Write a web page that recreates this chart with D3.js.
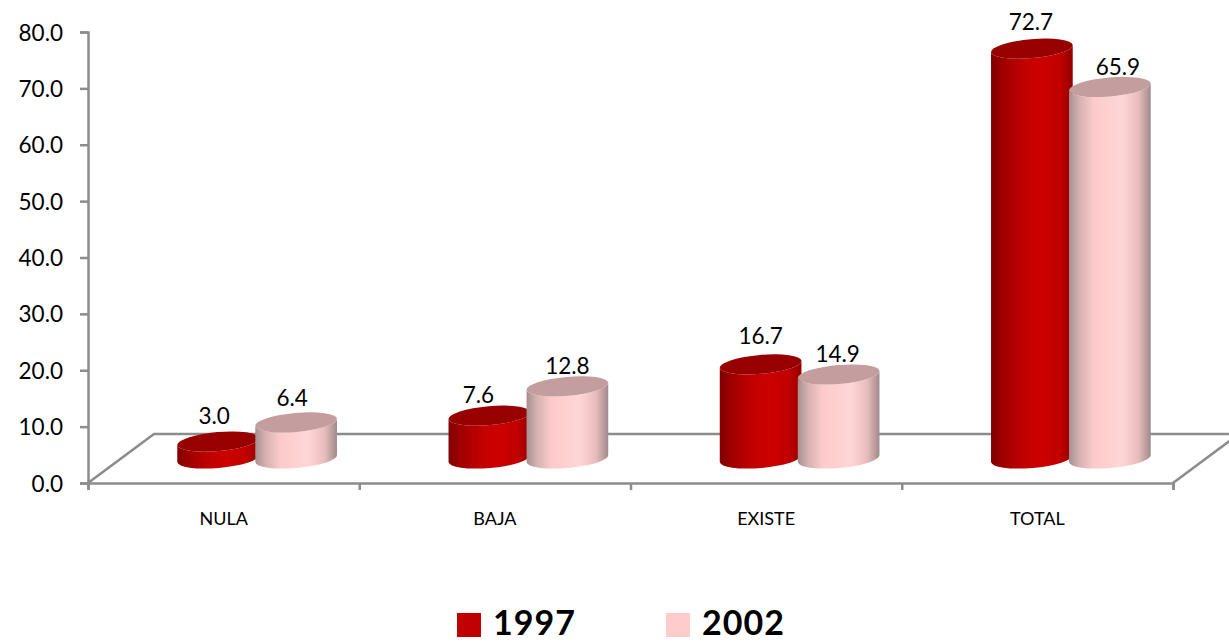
<!DOCTYPE html>
<html>
<head>
<meta charset="utf-8">
<script src="https://cdnjs.cloudflare.com/ajax/libs/d3/7.8.5/d3.min.js"></script>
<style>
  html, body { margin: 0; padding: 0; background: #fff; }
  svg { display: block; }
  text { font-family: Lato, "Open Sans", sans-serif; fill: #000; }
</style>
</head>
<body>
<svg id="chart" width="1229" height="642"></svg>
<script>
const categories = ['NULA', 'BAJA', 'EXISTE', 'TOTAL'];
const seriesNames = ['1997', '2002'];
const values1997 = [3.0, 7.6, 16.7, 72.7];
const values2002 = [6.4, 12.8, 14.9, 65.9];
const yTicks = [0, 10, 20, 30, 40, 50, 60, 70, 80];

const svg = d3.select('#chart');
const axisColor = '#8c8c8c';

// plot frame, the floor is a parallelogram going back by depthX/depthY
const plotLeft = 88, plotRight = 1173, plotBottom = 483, plotTop = 32;
const depthX = 66, depthY = 49;
const baseLift = 24.5;      // cylinders stand in the middle of the floor
const baseShift = 33.5;

const x = d3.scaleBand().domain(categories).range([plotLeft, plotRight]);
const xEdges = d3.scaleLinear().domain([0, categories.length]).range([plotLeft, plotRight]);
const y = d3.scaleLinear().domain([0, 80]).range([plotBottom, plotTop]);

const defs = svg.append('defs');

function addGradient(id, stops) {
  const grad = defs.append('linearGradient').attr('id', id);
  stops.forEach(function(s) {
    grad.append('stop').attr('offset', s[0]).attr('stop-color', s[1]);
  });
}
addGradient('red-body', [[0, '#800000'], [0.15, '#a00000'], [0.42, '#c40000'], [0.62, '#cc0000'], [0.85, '#c00000'], [1, '#920000']]);
addGradient('pink-body', [[0, '#a68f8f'], [0.12, '#d4b0b0'], [0.3, '#fccaca'], [0.65, '#ffd6d6'], [0.85, '#e8bcbc'], [1, '#a08a8a']]);

const series = [
  { name: seriesNames[0], values: values1997, side: -1, body: 'url(#red-body)', cap: '#980000', swatch: '#c00000' },
  { name: seriesNames[1], values: values2002, side: 1, body: 'url(#pink-body)', cap: '#c49e9e', swatch: '#ffcccc' }
];

// floor
const floor = svg.append('g').attr('fill', 'none').attr('stroke', axisColor).attr('stroke-width', 2.5);
floor.append('path').attr('d', d3.line()([[plotLeft, plotBottom], [plotLeft + depthX, plotBottom - depthY], [plotRight + depthX, plotBottom - depthY]]));
floor.append('path').attr('d', d3.line()([[plotRight, plotBottom], [plotRight + depthX, plotBottom - depthY]]));

// axes
const yAxis = svg.append('g')
  .attr('transform', 'translate(' + plotLeft + ',0)')
  .call(d3.axisLeft(y).tickValues(yTicks).tickSize(8).tickSizeOuter(8).tickPadding(17).tickFormat(d3.format('.1f')));
yAxis.selectAll('text').attr('font-size', 22.5).attr('dy', '0.36em').style('font-family', 'Lato');

const xAxis = svg.append('g')
  .attr('transform', 'translate(0,' + plotBottom + ')')
  .call(d3.axisBottom(xEdges).ticks(categories.length).tickSize(7).tickSizeOuter(7).tickFormat(''));

const xLabels = svg.append('g')
  .attr('transform', 'translate(0,' + plotBottom + ')')
  .call(d3.axisBottom(x).tickSize(0).tickPadding(29));
xLabels.select('.domain').remove();
xLabels.selectAll('text').attr('font-size', 18).style('font-family', 'Lato');

[yAxis, xAxis].forEach(function(a) {
  a.selectAll('.domain, .tick line').attr('stroke', axisColor).attr('stroke-width', 2.5);
});

// cylinders
const rx = 41, ry = 9.5, tiltDeg = -5;
const tilt = -tiltDeg * Math.PI / 180;
const dx = rx * Math.cos(tilt), dy = rx * Math.sin(tilt);

function bodyPath(cx, yTop, yBase) {
  return 'M' + (cx - dx) + ',' + (yTop + dy) +
    'L' + (cx - dx) + ',' + (yBase + dy) +
    'A' + rx + ',' + ry + ' ' + tiltDeg + ' 0 0 ' + (cx + dx) + ',' + (yBase - dy) +
    'L' + (cx + dx) + ',' + (yTop - dy) +
    'A' + rx + ',' + ry + ' ' + tiltDeg + ' 0 1 ' + (cx - dx) + ',' + (yTop + dy) + 'Z';
}

// labels were dragged by hand in the original
const labelNudge = {
  '1997': [[-4, -18], [-11, -13], [0, -20], [-1, -19]],
  '2002': [[-4, -16], [0, -12], [-1, -13], [8, -12]]
};

const barY = function(v) { return y(v) - baseLift; };
const barX = function(i, s) { return x(categories[i]) + x.bandwidth() / 2 + baseShift + s.side * 39; };

categories.forEach(function(cat, i) {
  series.forEach(function(s) {
    const v = s.values[i];
    const g = svg.append('g');
    g.append('path').attr('d', bodyPath(barX(i, s), barY(v), y(0) - baseLift)).attr('fill', s.body);
    g.append('ellipse')
      .attr('rx', rx).attr('ry', ry)
      .attr('transform', 'translate(' + barX(i, s) + ',' + barY(v) + ') rotate(' + tiltDeg + ')')
      .attr('fill', s.cap);
  });
});

// data labels on top of everything
categories.forEach(function(cat, i) {
  series.forEach(function(s) {
    const v = s.values[i];
    const nudge = labelNudge[s.name][i];
    svg.append('text')
      .attr('x', barX(i, s) + nudge[0])
      .attr('y', barY(v) + nudge[1])
      .attr('text-anchor', 'middle')
      .attr('font-size', 22.5)
      .text(d3.format('.1f')(v));
  });
});

// legend
const legendX = d3.scaleOrdinal().domain(seriesNames).range([457, 666]);
series.forEach(function(s) {
  svg.append('rect')
    .attr('x', legendX(s.name)).attr('y', 613)
    .attr('width', 24).attr('height', 24)
    .attr('fill', s.swatch);
  svg.append('text')
    .attr('x', legendX(s.name) + 36).attr('y', 635)
    .attr('font-size', 34).attr('font-weight', 700)
    .attr('letter-spacing', 1)
    .text(s.name);
});
</script>
</body>
</html>
